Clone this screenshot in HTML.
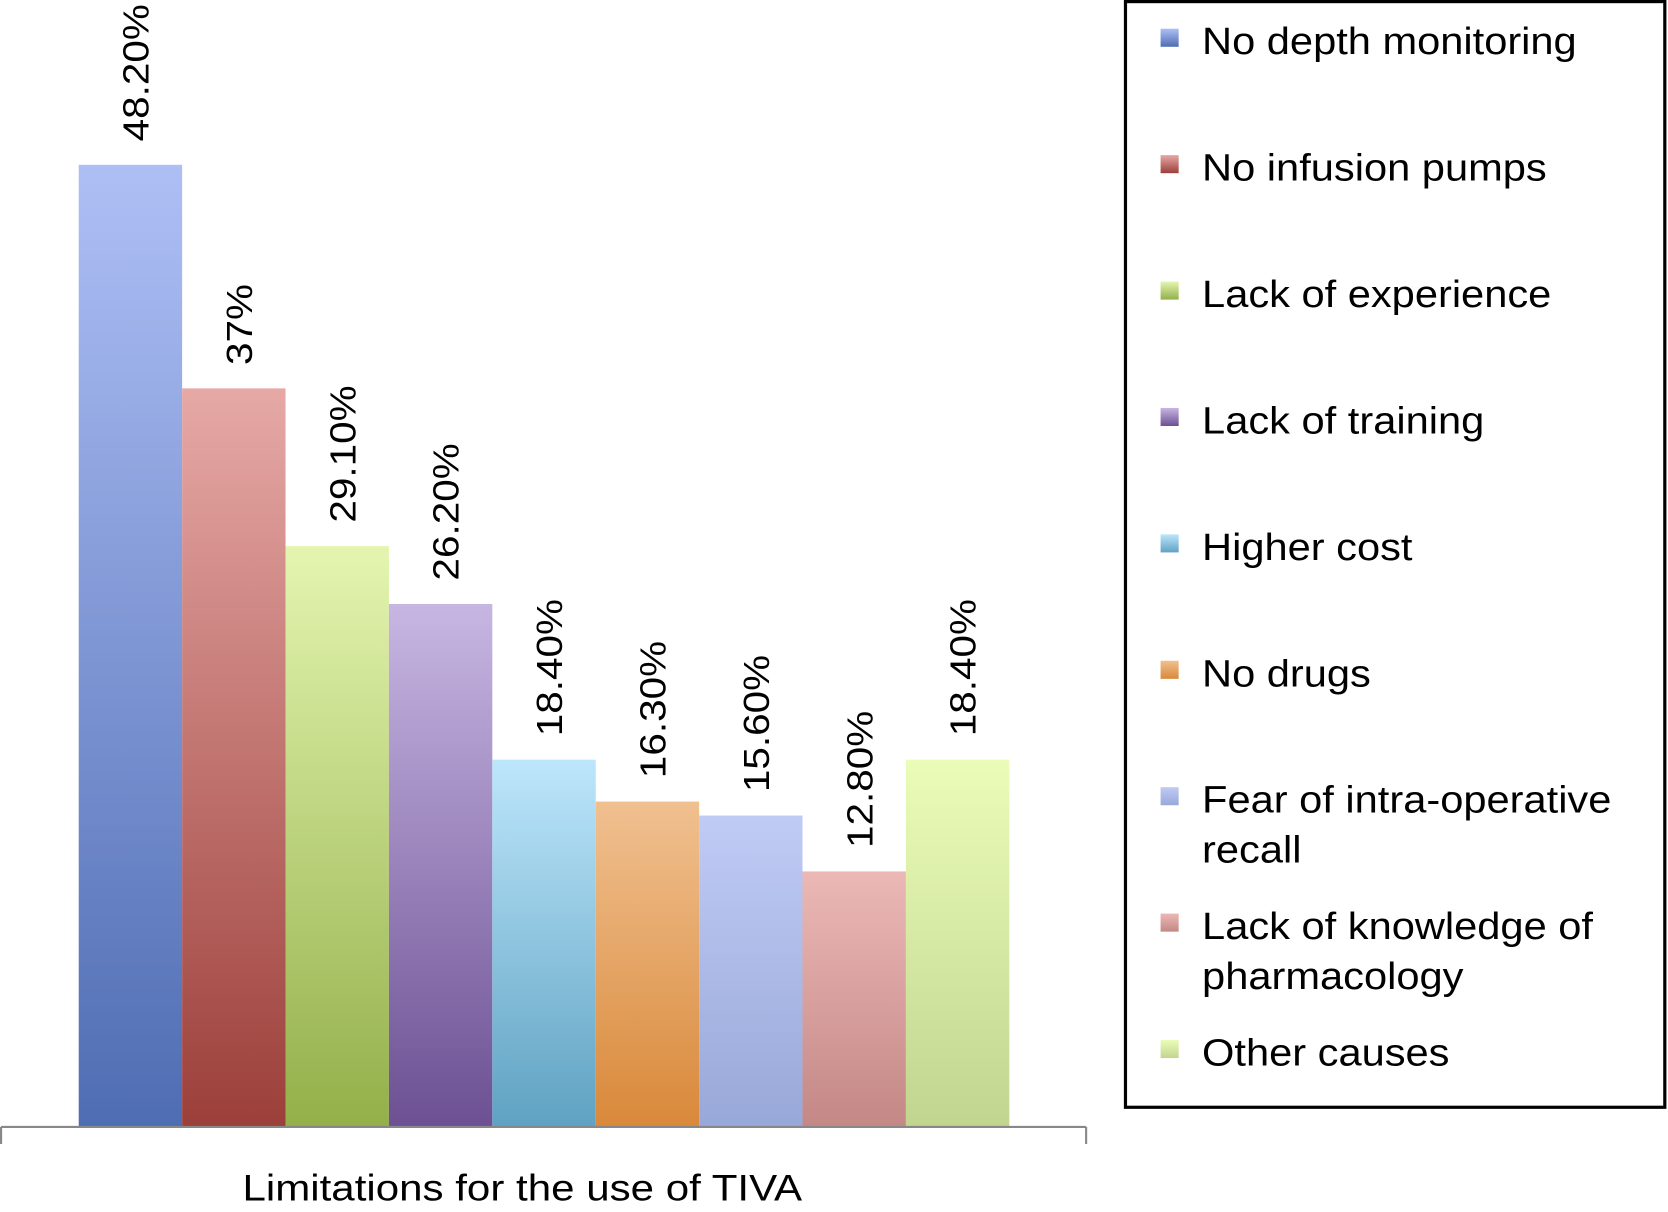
<!DOCTYPE html>
<html><head><meta charset="utf-8"><style>
html,body{margin:0;padding:0;background:#fff;}
svg{display:block;font-family:"Liberation Sans",Arial,sans-serif;}
</style></head><body>
<svg id="chart" width="1668" height="1212" viewBox="0 0 1568 1140" preserveAspectRatio="none" xmlns="http://www.w3.org/2000/svg">
<defs id="defs"></defs>
<g id="bars"></g>
<g id="labels"></g>
<line x1="1" y1="1060" x2="1021" y2="1060" stroke="#888" stroke-width="2"/>
<line x1="1" y1="1060" x2="1" y2="1076" stroke="#888" stroke-width="2"/>
<line x1="1021" y1="1060" x2="1021" y2="1076" stroke="#888" stroke-width="2"/>
<text id="xtitle" x="491" y="1129" font-size="35" text-anchor="middle" fill="#000">Limitations for the use of TIVA</text>
<rect x="1058" y="1.5" width="507" height="1040" fill="#fff" stroke="#000" stroke-width="3"/>
<g id="legend"></g>
</svg>
<script>
const categories = ["No depth monitoring","No infusion pumps","Lack of experience","Lack of training","Higher cost","No drugs","Fear of intra-operative recall","Lack of knowledge of pharmacology","Other causes"];
const values = [48.2,37,29.1,26.2,18.4,16.3,15.6,12.8,18.4];
const valueLabels = ["48.20%","37%","29.10%","26.20%","18.40%","16.30%","15.60%","12.80%","18.40%"];
const legendLines = [["No depth monitoring"],["No infusion pumps"],["Lack of experience"],["Lack of training"],["Higher cost"],["No drugs"],["Fear of intra-operative","recall"],["Lack of knowledge of","pharmacology"],["Other causes"]];
const topColors = ["#aebff5","#e6a9a6","#e4f5b0","#c7b6e2","#bde6fb","#f0c090","#c0cbf5","#ebb8b6","#eafcb8"];
const bottomColors = ["#4f6db3","#9c3f3a","#93b04a","#6c5093","#5fa2c2","#d9893a","#98a8d8","#c48886","#c2d590"];

const NS="http://www.w3.org/2000/svg";
const baseY=1060, pxPerUnit=905/48.2, x0=74, bw=97.2;
function yScale(v){return baseY - v*pxPerUnit;}
function xScale(i){return x0 + i*bw;}
const defs=document.getElementById('defs');
const gBars=document.getElementById('bars');
const gLab=document.getElementById('labels');
const gLeg=document.getElementById('legend');
function mk(t,a){const e=document.createElementNS(NS,t);for(const k in a)e.setAttribute(k,a[k]);return e;}
function widen(el,f){const w=el.getComputedTextLength();el.setAttribute('textLength',(w*f).toFixed(1));el.setAttribute('lengthAdjust','spacingAndGlyphs');}
categories.forEach((c,i)=>{
  const g=mk('linearGradient',{id:'g'+i,x1:0,y1:0,x2:0,y2:1});
  g.appendChild(mk('stop',{offset:'0','stop-color':topColors[i]}));
  g.appendChild(mk('stop',{offset:'1','stop-color':bottomColors[i]}));
  defs.appendChild(g);
  const y=yScale(values[i]);
  const r=mk('rect',{x:xScale(i),y:y,width:bw,height:baseY-y,fill:'url(#g'+i+')'});
  
  
  gBars.appendChild(r);
  const cx=xScale(i)+bw/2+17, ty=y-22;
  const t=mk('text',{x:cx,y:ty,'font-size':34,fill:'#000',transform:'rotate(-90 '+cx+' '+ty+')'});
  t.textContent=valueLabels[i];
  
  
  gLab.appendChild(t);
  widen(t,1.12);
  const ly=51+i*118.9;
  const m=mk('rect',{x:1091,y:ly-24,width:17,height:17,fill:'url(#g'+i+')'});
  
  
  gLeg.appendChild(m);
  legendLines[i].forEach((ln,j)=>{
    const lt=mk('text',{x:1130,y:ly+j*47,'font-size':36,fill:'#000'});
    lt.textContent=ln;
    
    
    gLeg.appendChild(lt);
    widen(lt,1.087);
  });
});
widen(document.getElementById('xtitle'),1.13);
</script>
</body></html>
